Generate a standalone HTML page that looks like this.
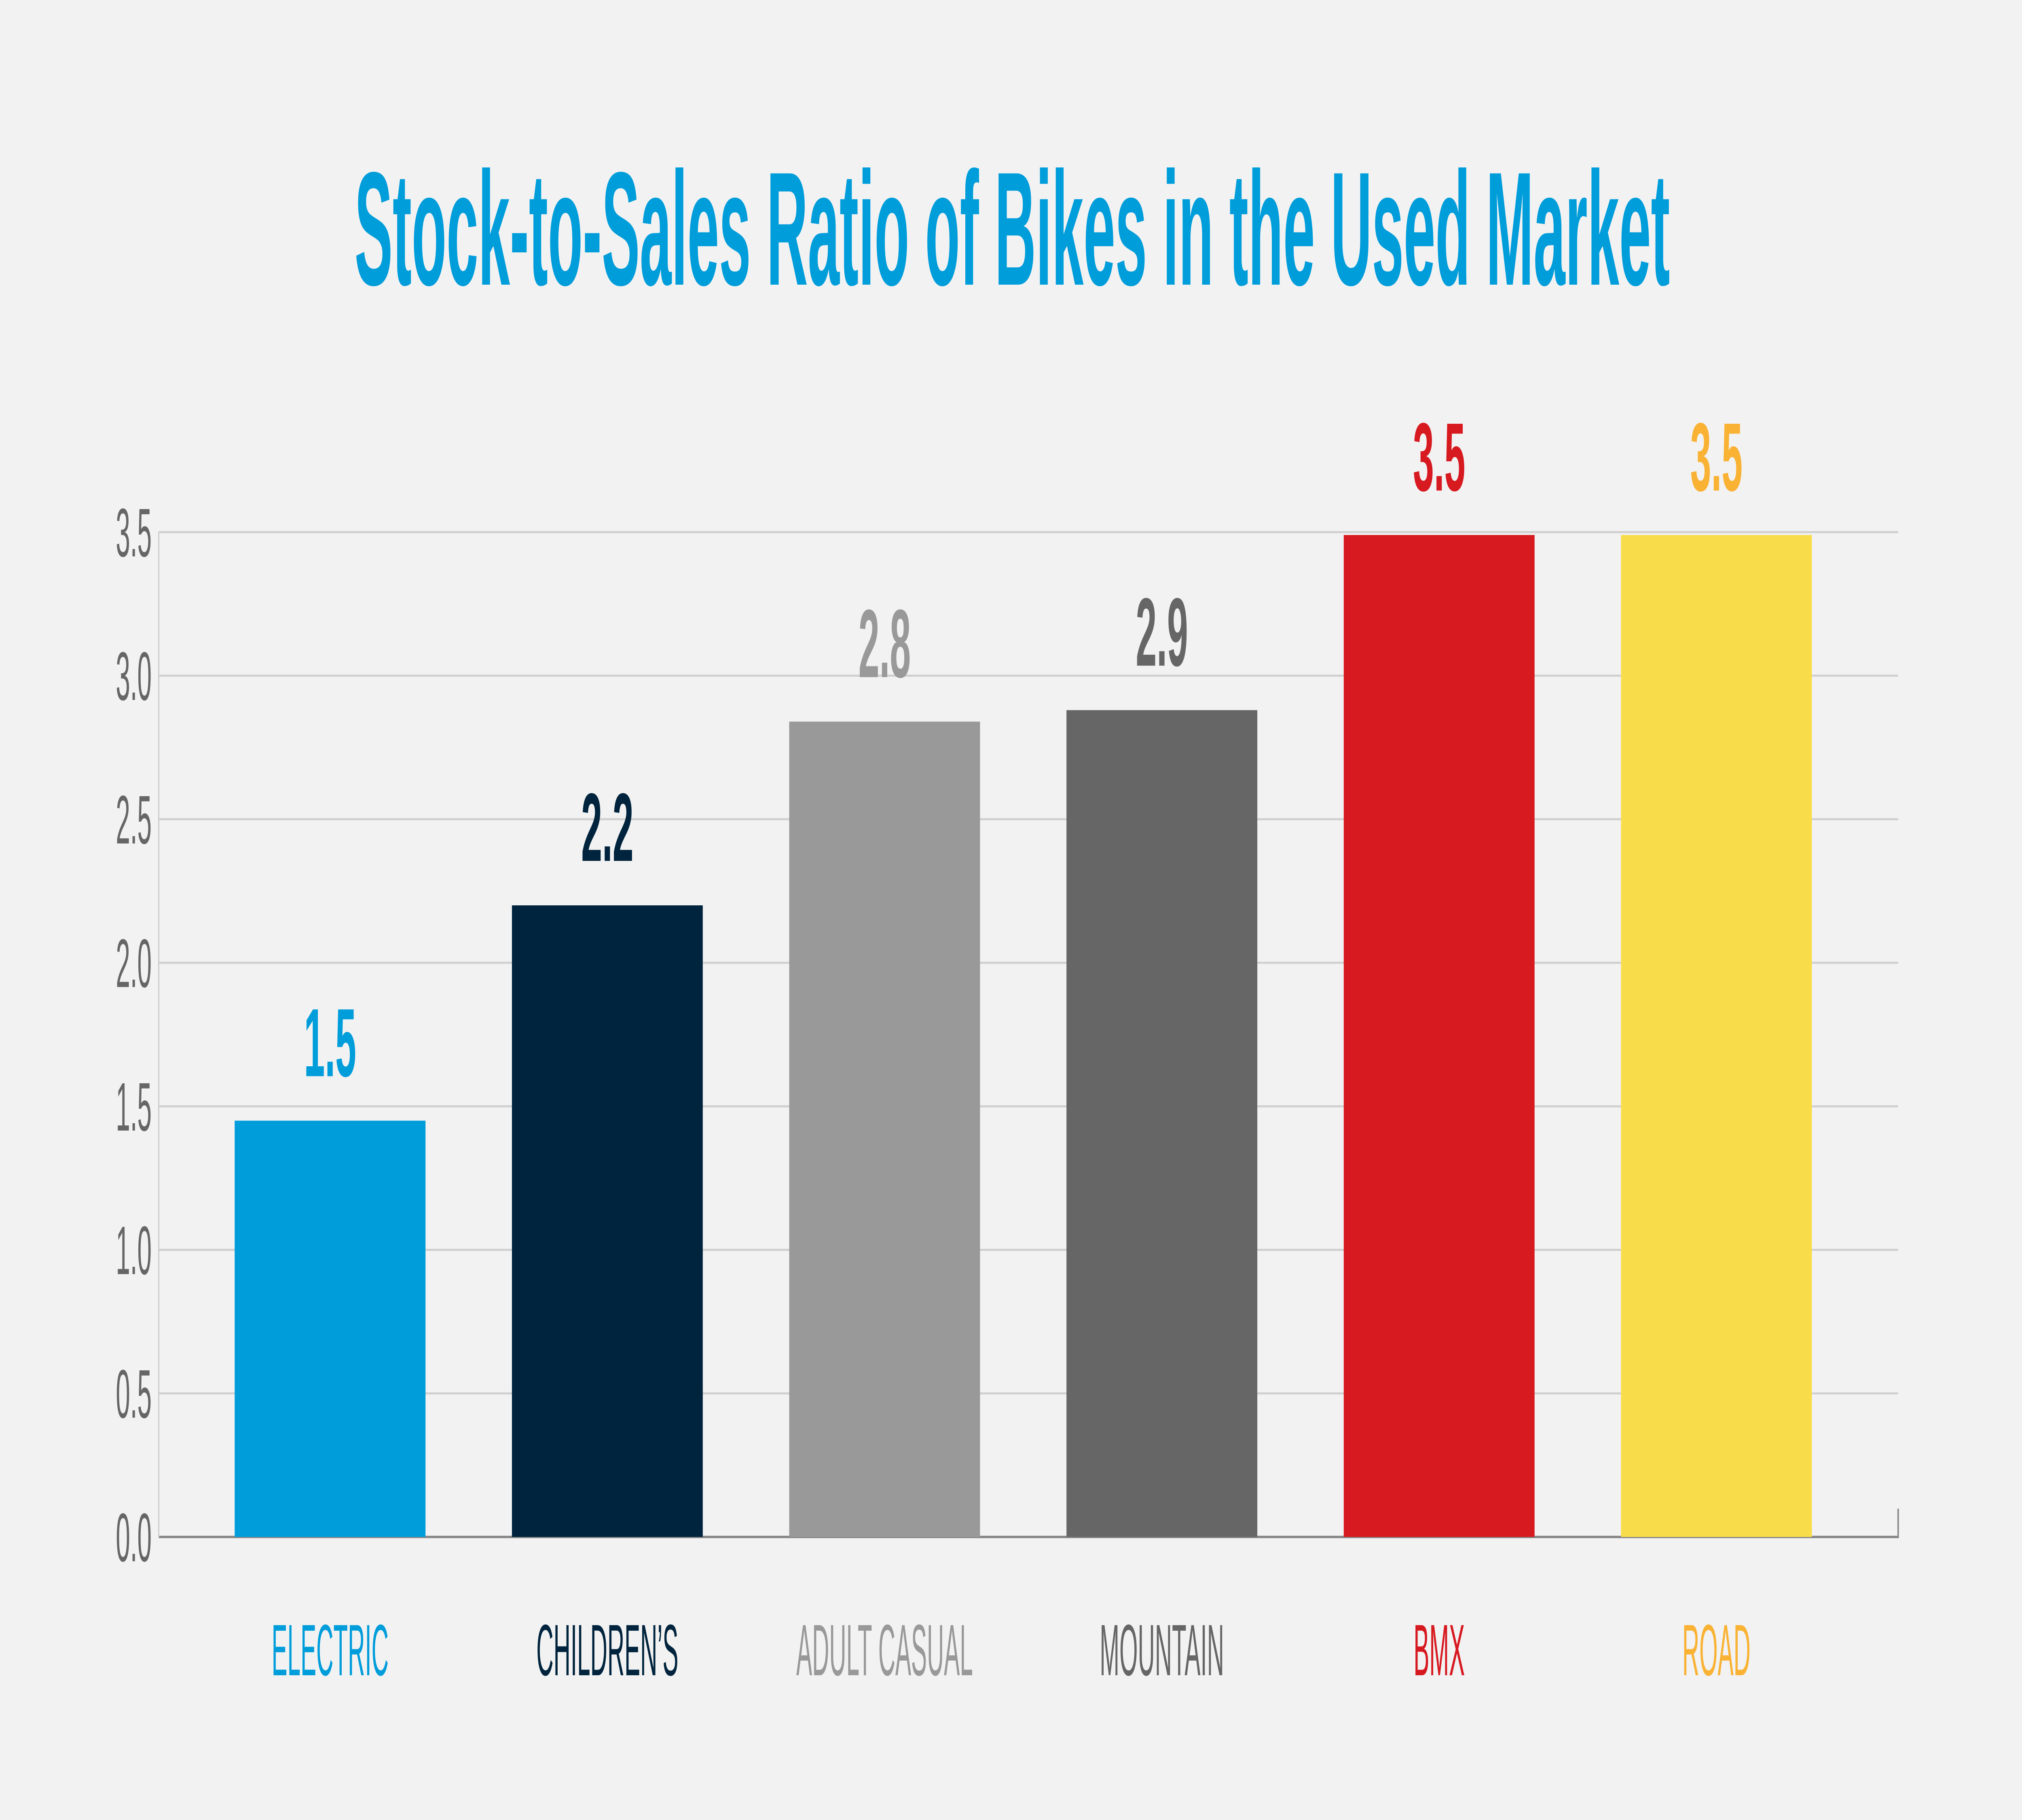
<!DOCTYPE html>
<html><head><meta charset="utf-8"><style>
html,body{margin:0;padding:0;background:#f2f2f2;width:100%;height:100%;overflow:hidden;}
svg{display:block;width:100vw;height:100vh;}
text{font-family:"Liberation Sans",sans-serif;}
</style></head><body>
<svg id="chart" viewBox="0 0 8000 4501" preserveAspectRatio="none" xmlns="http://www.w3.org/2000/svg">
<rect x="0" y="0" width="8000" height="4501" fill="#f2f2f2"/>
<text x="1403" y="704" textLength="5204" lengthAdjust="spacingAndGlyphs" font-size="400" font-weight="bold" fill="#009ddb">Stock-to-Sales Ratio of Bikes in the Used Market</text>
<g id="grid"></g><g id="bars"></g><g id="labels"></g>
</svg>
<script>
const categories = ["ELECTRIC","CHILDREN\u2019S","ADULT CASUAL","MOUNTAIN","BMX","ROAD"];
const values = [1.45, 2.2, 2.84, 2.88, 3.49, 3.49];
const valueLabels = ["1.5","2.2","2.8","2.9","3.5","3.5"];
const ticks = [0,0.5,1,1.5,2,2.5,3,3.5];
const tickLabels = ["0.0","0.5","1.0","1.5","2.0","2.5","3.0","3.5"];
const barColors = ["#009ddb","#00243d","#999999","#666666","#d71920","#f8dc4a"];
const textColors = ["#009ddb","#00243d","#999999","#666666","#d71920","#f9b233"];

const NS="http://www.w3.org/2000/svg";
const L=628,R=7510,Y0=3801,Y35=1316;
const y=v=>Y0-(v/3.5)*(Y0-Y35);
const band=1097;
const xc=i=>1306+band*i;
const bw=755;
function mk(t,a,p){const e=document.createElementNS(NS,t);for(const k in a)e.setAttribute(k,a[k]);p.appendChild(e);return e;}
const grid=document.getElementById('grid'),bars=document.getElementById('bars'),labels=document.getElementById('labels');
ticks.forEach((t,i)=>{
  if(t>0){const g=mk('line',{x1:L,x2:R,y1:y(t),y2:y(t),stroke:'#cfcfcf','stroke-width':5},grid);
  
  }
  const tx=mk('text',{transform:`translate(600,${y(t)+60}) scale(0.6,1)`,'text-anchor':'end','font-size':170,fill:'#666'},grid);
  tx.textContent=tickLabels[i];
  
  
});
const ax=mk('path',{d:`M${L} ${Y0}H${R}V${Y0-70}`,stroke:'#888',fill:'none','stroke-width':6},grid);


const yax=mk('line',{x1:L,x2:L,y1:Y35,y2:Y0,stroke:'#cfcfcf','stroke-width':5},grid);


values.forEach((v,i)=>{
  const b=mk('rect',{x:xc(i)-bw/2,y:y(v),width:bw,height:Y0-y(v),fill:barColors[i]},bars);
  
  
  const vl=mk('text',{transform:`translate(${xc(i)},${y(v)-110}) scale(0.62,1)`,'text-anchor':'middle','font-size':240,'font-weight':'bold',fill:textColors[i]},labels);
  vl.textContent=valueLabels[i];
  
  
  const cl=mk('text',{transform:`translate(${xc(i)},4143) scale(0.52,1)`,'text-anchor':'middle','font-size':180,fill:textColors[i]},labels);
  cl.textContent=categories[i];
  
  
});
</script>
</body></html>
